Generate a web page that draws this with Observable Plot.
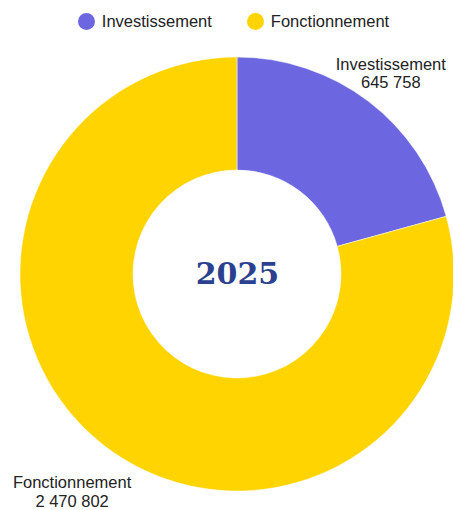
<!DOCTYPE html>
<html>
<head>
<meta charset="utf-8">
<script src="https://cdn.jsdelivr.net/npm/d3@7"></script>
<script src="https://cdn.jsdelivr.net/npm/@observablehq/plot@0.6"></script>
<style>
  html, body { margin: 0; padding: 0; background: #fff; }
  body { width: 453px; height: 510px; overflow: hidden; font-family: "Liberation Sans", Arial, sans-serif; }
  .legend { height: 40px; padding-top: 3px; display: flex; justify-content: center; align-items: center; gap: 35px; font-size: 16.5px; color: #222; padding-left: 14px; box-sizing: border-box; }
  .legend span.item { display: flex; align-items: center; }
  .legend span.sw { width: 17px; height: 17px; border-radius: 50%; display: inline-block; margin-right: 7px; }
</style>
</head>
<body>
<div class="legend" id="legend"></div>
<div id="chart"></div>
<script>
const categories = ["Investissement", "Fonctionnement"];
const values = [645758, 2470802];
const valueLabels = ["645 758", "2 470 802"];
const colors = ["#6C67E0", "#FFD400"];
const centerLabel = "2025";

const W = 453, H = 470;
const R = 217, r0 = 104;
const labelRadius = [253, 273];

const legend = document.getElementById("legend");
categories.forEach((c, i) => {
  const it = document.createElement("span");
  it.className = "item";
  const sw = document.createElement("span");
  sw.className = "sw";
  sw.style.background = colors[i];
  it.appendChild(sw);
  it.appendChild(document.createTextNode(c));
  legend.appendChild(it);
});

const pie = d3.pie().sort(null).value(d => d.value)(categories.map((c, i) => ({category: c, value: values[i], label: valueLabels[i]})));
const slices = pie.map((p, i) => {
  const mid = (p.startAngle + p.endAngle) / 2;
  return {...p, name: p.data.category, mid,
    lx: labelRadius[i] * Math.sin(mid), ly: labelRadius[i] * Math.cos(mid),
    text: p.data.category + "\n" + p.data.label};
});

const arcMark = (index, scales, values, dimensions) => {
  const cx = scales.x(0), cy = scales.y(0);
  const k = scales.x(1) - scales.x(0);
  const arc = d3.arc().innerRadius(r0 * k).outerRadius(R * k);
  const g = d3.create("svg:g").attr("transform", `translate(${cx},${cy})`);
  g.selectAll("path").data(slices).join("path")
    .attr("d", d => arc(d))
    .attr("fill", d => scales.color(d.name))
    .attr("stroke", "#fff").attr("stroke-width", 0.5);
  return g.node();
};

const plot = Plot.plot({
  width: W, height: H,
  margin: 0,
  x: {domain: [-237, 216], range: [0, W], axis: null},
  y: {domain: [-236, 234], range: [H, 0], axis: null},
  color: {domain: categories, range: colors},
  style: {fontFamily: "Liberation Sans, Arial, sans-serif", background: "#fff", overflow: "visible"},
  marks: [
    arcMark,
    Plot.text(slices, {x: "lx", y: "ly", text: "text", fontSize: 16.5, fill: "#222", lineHeight: 1.1, textAnchor: "middle"}),
    Plot.text([centerLabel], {x: 0, y: 0, text: d => d, fontSize: 30, fontWeight: "bold", fontFamily: "DejaVu Serif, serif", fill: "#2B4190"})
  ]
});
document.getElementById("chart").appendChild(plot);
</script>
</body>
</html>
